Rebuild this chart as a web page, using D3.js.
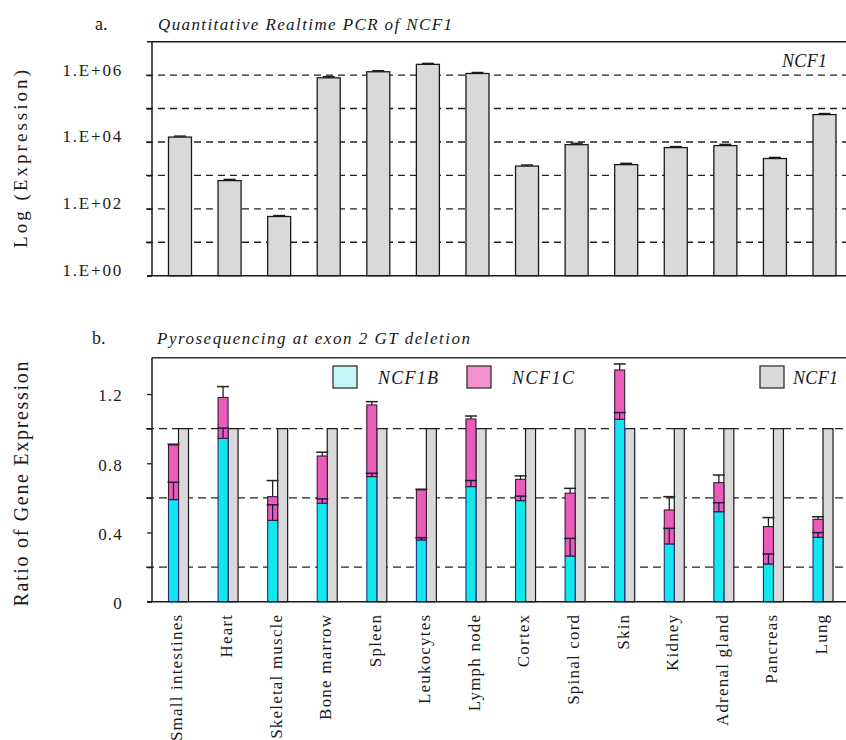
<!DOCTYPE html>
<html>
<head>
<meta charset="utf-8">
<script src="https://cdn.jsdelivr.net/npm/d3@7"></script>
<style>
  html, body { margin: 0; padding: 0; background: #fff; }
  svg { display: block; }
  svg text { font-family: "Liberation Serif", "Times New Roman", "DejaVu Serif", serif !important; }
</style>
</head>
<body>
<svg id="chart" width="846" height="740"></svg>
<script>
// Tissues shown on both panels
const tissues = ["Small intestines", "Heart", "Skeletal muscle", "Bone marrow", "Spleen",
  "Leukocytes", "Lymph node", "Cortex", "Spinal cord", "Skin", "Kidney",
  "Adrenal gland", "Pancreas", "Lung"];

// Panel a: quantitative realtime PCR of NCF1 (log scale)
const pcrExpression = [1.4e4, 7.0e2, 59, 8.3e5, 1.26e6, 2.1e6, 1.12e6, 1.9e3, 8.3e3, 2.1e3, 6.8e3, 7.8e3, 3.2e3, 6.6e4];
const pcrUpper      = [1.5e4, 7.6e2, 63, 9.0e5, 1.36e6, 2.25e6, 1.2e6, 2.05e3, 9.2e3, 2.3e3, 7.3e3, 8.5e3, 3.45e3, 7.1e4];
const logTicks = [1, 1e1, 1e2, 1e3, 1e4, 1e5, 1e6];
const logTickLabels = ["1.E+00", "", "1.E+02", "", "1.E+04", "", "1.E+06"];

// Panel b: pyrosequencing ratios
const ncf1b    = [0.59, 0.944, 0.47, 0.569, 0.723, 0.357, 0.665, 0.584, 0.264, 1.054, 0.334, 0.52, 0.218, 0.372];
const ncf1bErr = [0.10, 0.059, 0.09, 0.025, 0.019, 0.013, 0.035, 0.026, 0.102, 0.039, 0.09, 0.052, 0.058, 0.027];
const ncf1c    = [0.316, 0.236, 0.137, 0.273, 0.414, 0.289, 0.391, 0.123, 0.363, 0.285, 0.196, 0.168, 0.216, 0.104];
const ncf1cErr = [0.004, 0.063, 0.093, 0.022, 0.019, 0.004, 0.017, 0.02, 0.028, 0.035, 0.077, 0.044, 0.052, 0.015];
const ncf1     = [1, 1, 1, 1, 1, 1, 1, 1, 1, 1, 1, 1, 1, 1];
const ratioTicks = [0, 0.2, 0.4, 0.6, 0.8, 1.0, 1.2];
const ratioTickLabels = ["0", "", "0.4", "", "0.8", "", "1.2"];
const ratioGrid = [0.2, 0.6, 1.0];

const colors = { b: "#12e8ec", c: "#ea5cba", total: "#d9d9d9",
                 bKey: "#c4f6f7", cKey: "#f392cc", totalKey: "#d9d9d9" };

const svg = d3.select("#chart");
const W = 846;
const axisX = 152;
const ink = "#1a1a1a";

/* ---------------- Panel a ---------------- */
const aTop = 41.7, aBottom = 275.7;
const xA = d3.scaleBand().domain(tissues).range([155.2, 849.3]).paddingInner(0.536).paddingOuter(0.268);
const yA = d3.scaleLog().domain([1, 1e7]).range([aBottom, aTop]);

const gA = svg.append("g");

// dashed decade lines
gA.selectAll("line.grid").data(logTicks.slice(1)).join("line")
  .attr("x1", 146).attr("x2", W).attr("y1", d => yA(d)).attr("y2", d => yA(d))
  .attr("stroke", "#222").attr("stroke-width", 1.4).attr("stroke-dasharray", "7,5");

// bars
gA.selectAll("rect.bar").data(tissues).join("rect")
  .attr("x", d => xA(d)).attr("width", xA.bandwidth())
  .attr("y", (d, i) => yA(pcrExpression[i]))
  .attr("height", (d, i) => aBottom - yA(pcrExpression[i]))
  .attr("fill", "#d9d9d9").attr("stroke", ink).attr("stroke-width", 1.3);

// error bars
const errA = gA.selectAll("g.err").data(tissues).join("g");
errA.append("line")
  .attr("x1", d => xA(d) + xA.bandwidth() / 2).attr("x2", d => xA(d) + xA.bandwidth() / 2)
  .attr("y1", (d, i) => yA(pcrExpression[i])).attr("y2", (d, i) => yA(pcrUpper[i]))
  .attr("stroke", ink).attr("stroke-width", 1.2);
errA.append("line")
  .attr("x1", d => xA(d) + xA.bandwidth() / 2 - 6).attr("x2", d => xA(d) + xA.bandwidth() / 2 + 6)
  .attr("y1", (d, i) => yA(pcrUpper[i])).attr("y2", (d, i) => yA(pcrUpper[i]))
  .attr("stroke", ink).attr("stroke-width", 1.4);

// y axis
const axA = gA.append("g").attr("transform", `translate(${axisX},0)`)
  .call(d3.axisLeft(yA).tickValues(logTicks).tickSize(5)
        .tickFormat((d, i) => logTickLabels[i]));
axA.select(".domain").remove();
axA.selectAll(".tick line").attr("stroke", ink).attr("stroke-width", 1.3);
axA.selectAll(".tick text").attr("x", -29).attr("dy", "0")
  .attr("font-size", 17).attr("letter-spacing", 1.8).attr("fill", ink);

// frame
gA.append("line").attr("x1", 147).attr("x2", W).attr("y1", aTop).attr("y2", aTop)
  .attr("stroke", ink).attr("stroke-width", 1.5);
gA.append("line").attr("x1", axisX).attr("x2", axisX).attr("y1", aTop).attr("y2", aBottom)
  .attr("stroke", ink).attr("stroke-width", 1.5);
gA.append("line").attr("x1", 147).attr("x2", W).attr("y1", aBottom).attr("y2", aBottom)
  .attr("stroke", ink).attr("stroke-width", 1.5);

// titles
gA.append("text").attr("x", 95).attr("y", 30).attr("font-size", 18).attr("fill", ink).text("a.");
gA.append("text").attr("x", 158).attr("y", 30).attr("font-size", 17).attr("font-style", "italic")
  .attr("fill", ink).attr("textLength", 294).attr("lengthAdjust", "spacing")
  .text("Quantitative Realtime PCR of NCF1");
gA.append("text").attr("x", 782).attr("y", 67).attr("font-size", 18).attr("font-style", "italic")
  .attr("fill", ink).attr("textLength", 45).attr("lengthAdjust", "spacing").text("NCF1");
gA.append("text").attr("transform", "translate(27,159) rotate(-90)")
  .attr("text-anchor", "middle").attr("font-size", 19).attr("fill", ink)
  .attr("textLength", 178).attr("lengthAdjust", "spacing").text("Log (Expression)");

/* ---------------- Panel b ---------------- */
const bTop = 357.7, bBottom = 601.7;
const xB = d3.scaleBand().domain(tissues).range([153.7, 847.8]).paddingInner(0.5966).paddingOuter(0.2983);
const xSub = d3.scaleBand().domain(["stack", "total"]).range([0, xB.bandwidth()]);
const yB = d3.scaleLinear().domain([0, 1.41]).range([bBottom, bTop]);

const gB = svg.append("g");

gB.selectAll("line.grid").data(ratioGrid).join("line")
  .attr("x1", 146).attr("x2", W).attr("y1", d => yB(d)).attr("y2", d => yB(d))
  .attr("stroke", "#222").attr("stroke-width", 1.4).attr("stroke-dasharray", "8,5");

const rows = tissues.map((t, i) => ({ tissue: t, b: ncf1b[i], c: ncf1c[i], total: ncf1[i],
                                      bErr: ncf1bErr[i], cErr: ncf1cErr[i] }));
const stacked = d3.stack().keys(["b", "c"])(rows);

// NCF1 reference bars
gB.selectAll("rect.total").data(rows).join("rect")
  .attr("x", d => xB(d.tissue) + xSub("total")).attr("width", xSub.bandwidth())
  .attr("y", d => yB(d.total)).attr("height", d => bBottom - yB(d.total))
  .attr("fill", colors.total).attr("stroke", ink).attr("stroke-width", 1.2);

// stacked NCF1B / NCF1C
const strokeFor = { b: "#1c2f86", c: "#3a1a33" };
gB.selectAll("g.layer").data(stacked).join("g")
  .attr("fill", s => colors[s.key]).attr("stroke", s => strokeFor[s.key]).attr("stroke-width", 1.1)
  .selectAll("rect").data(s => s).join("rect")
  .attr("x", d => xB(d.data.tissue) + xSub("stack")).attr("width", xSub.bandwidth())
  .attr("y", d => yB(d[1])).attr("height", d => yB(d[0]) - yB(d[1]));

// error bars (upper arm)
function errBars(errKey, top, color) {
  const g = gB.append("g").attr("stroke", color);
  rows.forEach(r => {
    const cx = xB(r.tissue) + xSub("stack") + xSub.bandwidth() / 2;
    const v = top(r), hi = v + r[errKey];
    g.append("line").attr("x1", cx).attr("x2", cx).attr("y1", yB(v)).attr("y2", yB(hi)).attr("stroke-width", 1.3);
    g.append("line").attr("x1", cx - 6).attr("x2", cx + 6).attr("y1", yB(hi)).attr("y2", yB(hi)).attr("stroke-width", 1.5);
  });
}
errBars("bErr", r => r.b, "#1b1b40");
errBars("cErr", r => r.b + r.c, "#222");

// y axis
const axB = gB.append("g").attr("transform", `translate(${axisX},0)`)
  .call(d3.axisLeft(yB).tickValues(ratioTicks).tickSize(5)
        .tickFormat((d, i) => ratioTickLabels[i]));
axB.select(".domain").remove();
axB.selectAll(".tick line").attr("stroke", ink).attr("stroke-width", 1.3);
axB.selectAll(".tick text").attr("x", -29).attr("dy", "0.4em")
  .attr("font-size", 17).attr("letter-spacing", 1.2).attr("fill", ink);

// x axis labels
const axX = gB.append("g").attr("transform", `translate(0,${bBottom})`)
  .call(d3.axisBottom(xB).tickSize(0).tickPadding(0));
axX.select(".domain").remove();
axX.selectAll(".tick text")
  .attr("transform", "translate(-1.5,12) rotate(-90)")
  .attr("text-anchor", "end").attr("x", 0).attr("y", 0).attr("dy", "0.32em")
  .attr("font-size", 17).attr("letter-spacing", 1.2).attr("fill", ink);

// frame
gB.append("line").attr("x1", axisX).attr("x2", W).attr("y1", bTop).attr("y2", bTop)
  .attr("stroke", "#333").attr("stroke-width", 1.6);
gB.append("line").attr("x1", axisX).attr("x2", axisX).attr("y1", bTop).attr("y2", bBottom)
  .attr("stroke", ink).attr("stroke-width", 1.5);
gB.append("line").attr("x1", 147).attr("x2", W).attr("y1", bBottom).attr("y2", bBottom)
  .attr("stroke", ink).attr("stroke-width", 1.5);

// legend
const legend = [
  { label: "NCF1B", fill: colors.bKey, x: 333, tx: 378, tw: 60 },
  { label: "NCF1C", fill: colors.cKey, x: 467, tx: 512, tw: 62 },
  { label: "NCF1",  fill: colors.totalKey, x: 760, tx: 793, tw: 45 }
];
const lg = gB.selectAll("g.legend").data(legend).join("g");
lg.append("rect").attr("x", d => d.x).attr("y", 366).attr("width", 24).attr("height", 22)
  .attr("fill", d => d.fill).attr("stroke", "#333").attr("stroke-width", 1.3);
lg.append("text").attr("x", d => d.tx).attr("y", 384).attr("font-size", 18).attr("font-style", "italic")
  .attr("fill", ink).attr("textLength", d => d.tw).attr("lengthAdjust", "spacing").text(d => d.label);

// titles
gB.append("text").attr("x", 92).attr("y", 344).attr("font-size", 18).attr("fill", ink).text("b.");
gB.append("text").attr("x", 157).attr("y", 344).attr("font-size", 17).attr("font-style", "italic")
  .attr("fill", ink).attr("textLength", 313).attr("lengthAdjust", "spacing")
  .text("Pyrosequencing at exon 2 GT deletion");
gB.append("text").attr("transform", "translate(28,484) rotate(-90)")
  .attr("text-anchor", "middle").attr("font-size", 20).attr("fill", ink)
  .attr("textLength", 245).attr("lengthAdjust", "spacing").text("Ratio of Gene Expression");
</script>
</body>
</html>
